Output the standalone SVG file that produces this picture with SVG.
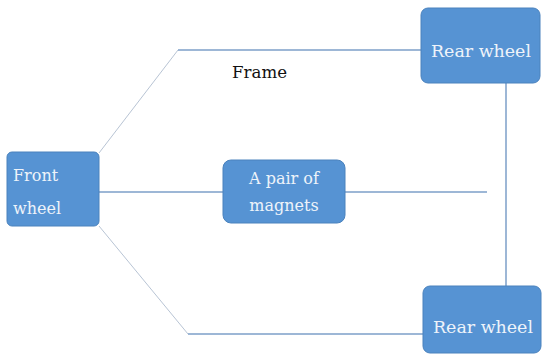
<svg xmlns="http://www.w3.org/2000/svg" width="543" height="356" viewBox="0 0 543 356">
<style>
text{font-family:'DejaVu Serif','Liberation Serif',serif}
.box{fill:#5693d3;stroke:#4a82bd;stroke-width:1}
.lbl{font-size:16px;fill:#eef3fa}
.ln{fill:none;stroke:#7d9fc8;stroke-width:1.5}
.dg{fill:none;stroke:#b8c4d4;stroke-width:1}
</style>
<rect width="543" height="356" fill="#ffffff"/>
<g id="connectors">
<polyline class="dg" points="99,153 178,50"/>
<polyline class="ln" points="178,50 421,50"/>
<polyline class="dg" points="99,226 188,334"/>
<polyline class="ln" points="188,334 423,334"/>
<line class="ln" x1="99" y1="192" x2="487" y2="192"/>
<line class="ln" x1="506" y1="83" x2="506" y2="287"/>
</g>
<g id="frame-label">
<text x="232" y="78" font-size="17" fill="#111" textLength="55" lengthAdjust="spacingAndGlyphs">Frame</text>
</g>
<g id="front-wheel">
<rect class="box" x="7" y="152" width="92" height="74" rx="5"/>
<text class="lbl" x="13" y="181">Front</text>
<text class="lbl" x="13" y="214">wheel</text>
</g>
<g id="magnets">
<rect class="box" x="223" y="160" width="122" height="63" rx="8"/>
<text class="lbl" x="284" y="184" text-anchor="middle">A pair of</text>
<text class="lbl" x="284" y="211" text-anchor="middle">magnets</text>
</g>
<g id="rear-wheel-top">
<rect class="box" x="421" y="8" width="119" height="75" rx="7"/>
<text class="lbl" x="481" y="57" text-anchor="middle" textLength="100" lengthAdjust="spacingAndGlyphs">Rear wheel</text>
</g>
<g id="rear-wheel-bottom">
<rect class="box" x="423" y="286" width="118" height="67" rx="7"/>
<text class="lbl" x="483" y="333" text-anchor="middle" textLength="100" lengthAdjust="spacingAndGlyphs">Rear wheel</text>
</g>
</svg>
